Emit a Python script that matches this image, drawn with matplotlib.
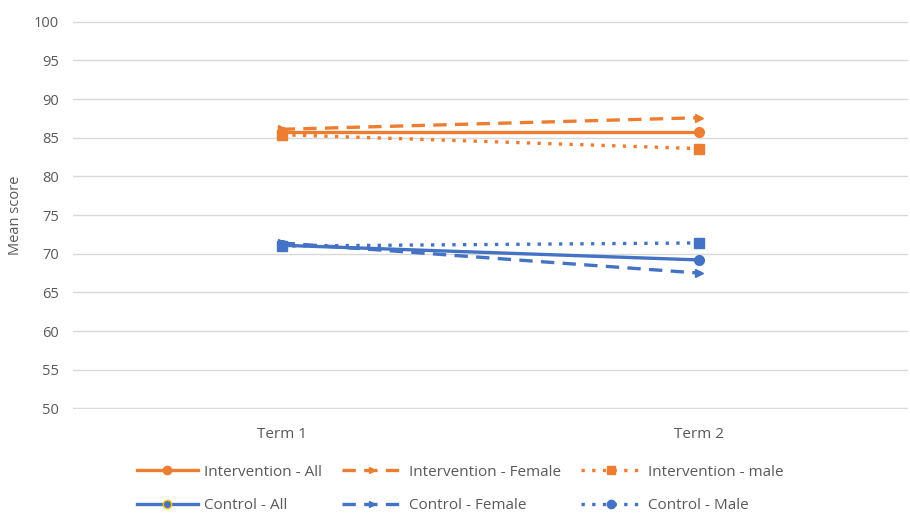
import matplotlib.pyplot as plt
from matplotlib.lines import Line2D

terms = ["Term 1", "Term 2"]
int_all = [85.8, 85.8]
int_female = [86.1, 87.6]
int_male = [85.4, 83.6]
ctl_all = [71.1, 69.2]
ctl_female = [71.4, 67.5]
ctl_male = [71.0, 71.4]

orange = "#ED7D31"
blue = "#4472C4"
grey = "#595959"

plt.rcParams['font.family'] = ['Open Sans', 'DejaVu Sans']

fig = plt.figure(figsize=(9.1, 5.14), dpi=100)
ax = fig.add_axes([0.080, 0.204, 0.918, 0.755])

x = [0.5, 1.5]
lw = 2.4
ax.plot(x, int_male, color=orange, lw=lw, ls=(0, (1, 2.2)), marker="s", ms=7, zorder=3)
ax.plot(x, int_all, color=orange, lw=lw, ls="-", marker="o", ms=7, zorder=3)
ax.plot(x, int_female, color=orange, lw=lw, ls=(0, (4, 2.5)), marker=">", ms=5.5, zorder=3)
ax.plot(x, ctl_male, color=blue, lw=lw, ls=(0, (1, 2.2)), marker="s", ms=7, zorder=3)
ax.plot(x, ctl_all, color=blue, lw=lw, ls="-", marker="o", ms=7, zorder=3)
ax.plot(x, ctl_female, color=blue, lw=lw, ls=(0, (4, 2.5)), marker=">", ms=5.5, zorder=3)

ax.set_xlim(0, 2)
ax.set_ylim(49.9, 100.1)
ax.set_yticks(range(50, 101, 5))
ax.set_xticks(x)
ax.set_xticklabels(terms)
ax.grid(axis="y", color="#D9D9D9", lw=1)
ax.set_axisbelow(True)
for s in ax.spines.values():
    s.set_visible(False)
ax.tick_params(length=0, labelsize=10.5, colors=grey, pad=10)
ax.tick_params(axis="x", labelsize=11, pad=13)
ax.set_ylabel("Mean score", fontsize=10.5, color=grey, labelpad=8)

handles = [
    Line2D([], [], color=orange, lw=lw, ls="-", marker="o", ms=6),
    Line2D([], [], color=blue, lw=lw, ls="-", marker="o", ms=6, mec="#FFC000"),
    Line2D([], [], color=orange, lw=lw, ls=(0, (4, 2.5)), marker=">", ms=5),
    Line2D([], [], color=blue, lw=lw, ls=(0, (4, 2.5)), marker=">", ms=5),
    Line2D([], [], color=orange, lw=lw, ls=(0, (1, 2.2)), marker="s", ms=6),
    Line2D([], [], color=blue, lw=lw, ls=(0, (1, 2.2)), marker="o", ms=6),
]
labels = ["Intervention - All", "Control - All",
          "Intervention - Female", "Control - Female",
          "Intervention - male", "Control - Male"]
leg = fig.legend(handles, labels, ncol=3, loc="lower left",
                 bbox_to_anchor=(0.135, -0.025), frameon=False,
                 fontsize=11, handlelength=4.0, handletextpad=0.4,
                 columnspacing=1.3, labelspacing=1.2)
for t in leg.get_texts():
    t.set_color(grey)

fig.savefig("out.png", dpi=100)
